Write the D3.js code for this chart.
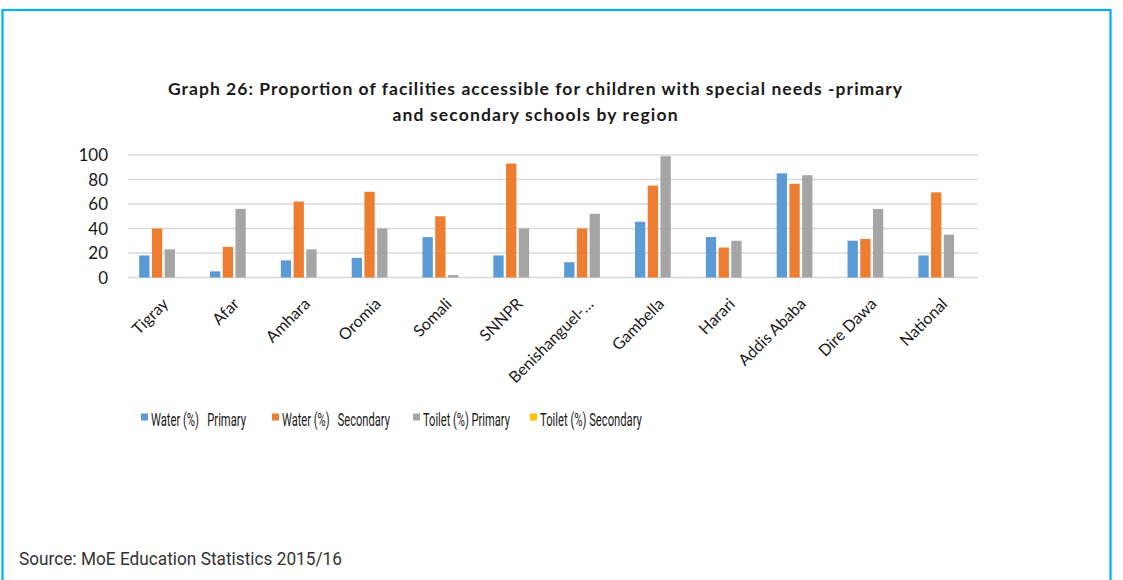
<!DOCTYPE html>
<html><head><meta charset="utf-8">
<script src="https://cdn.jsdelivr.net/npm/d3@7"></script>
<style>body{margin:0;background:#fff}svg{display:block}</style>
</head><body><svg id="c" width="1123" height="580"></svg>
<script>
const categories = ["Tigray","Afar","Amhara","Oromia","Somali","SNNPR","Benishanguel-…","Gambella","Harari","Addis Ababa","Dire Dawa","National"];
const seriesNames = ["Water (%)   Primary","Water (%)   Secondary","Toilet (%) Primary","Toilet (%) Secondary"];
const waterPrimary   = [18, 5, 14, 16, 33, 18, 12.5, 45.5, 33, 85, 30, 18];
const waterSecondary = [40, 25, 62, 70, 50, 93, 40, 75, 24.5, 76.5, 31.5, 69.5];
const toiletPrimary  = [23, 56, 23, 40, 2, 40, 52, 99, 30, 83.5, 56, 35];
const toiletSecondary= [0, 0, 0, 0, 0, 0, 0, 0, 0, 0, 0, 0];
const yTicks = [0, 20, 40, 60, 80, 100];
const colors = ["#5B9BD5","#ED7D31","#A5A5A5","#FFC000"];
const series = [waterPrimary, waterSecondary, toiletPrimary, toiletSecondary];

const svg = d3.select("#c");
svg.append("rect").attr("x",2.5).attr("y",10).attr("width",1108).attr("height",600)
  .attr("fill","none").attr("stroke","#00B0F0").attr("stroke-width",2.2);

const font = "Lato, 'Open Sans', sans-serif";
const title = svg.append("text").attr("text-anchor","middle").attr("font-family",font)
  .attr("font-weight","bold").attr("font-size",17.5).attr("fill","#1a1a1a");
title.append("tspan").attr("x",535).attr("y",95).attr("textLength",734).attr("lengthAdjust","spacing")
  .text("Graph 26: Proportion of facilities  accessible for children with special needs -primary");
title.append("tspan").attr("x",535).attr("y",121).attr("textLength",285).attr("lengthAdjust","spacing")
  .text("and secondary schools by region");

const x0 = d3.scaleBand().domain(categories).range([128, 978]);
const x1 = d3.scaleBand().domain(d3.range(4)).range([0, x0.bandwidth()]).paddingInner(0.19).paddingOuter(0.88);
const y = d3.scaleLinear().domain([0,100]).range([277.5, 155]);

svg.append("g").selectAll("line").data(yTicks).join("line")
  .attr("x1",128).attr("x2",978).attr("y1",d=>y(d)).attr("y2",d=>y(d))
  .attr("stroke","#D9D9D9").attr("stroke-width",1.6);

const yAxis = d3.axisLeft(y).tickValues(yTicks).tickSize(0).tickPadding(0);
const ga = svg.append("g").attr("transform","translate(108,0)").call(yAxis);
ga.select(".domain").remove();
ga.selectAll("text").attr("font-family",font).attr("font-size",17).attr("fill","#1a1a1a").attr("dy","0.35em");

categories.forEach((c,i)=>{
  series.forEach((s,j)=>{
    svg.append("rect").attr("x",x0(c)+x1(j)).attr("width",x1.bandwidth())
      .attr("y",y(s[i])).attr("height",y(0)-y(s[i])).attr("fill",colors[j]);
  });
});

const xAxis = d3.axisBottom(x0).tickSize(0).tickPadding(0);
const gx = svg.append("g").attr("transform","translate(0,301)").call(xAxis);
gx.select(".domain").remove();
gx.selectAll("text").attr("font-family",font).attr("font-size",16).attr("fill","#1a1a1a")
  .attr("text-anchor","end").attr("dy","0.35em").attr("transform","translate(2,0) rotate(-45)");

const legX = [141, 272, 413, 530];
const legW = [95, 108, 87, 102];
const lg = svg.append("g");
seriesNames.forEach((n,j)=>{
  lg.append("rect").attr("x",legX[j]).attr("y",413.5).attr("width",7).attr("height",7).attr("fill",colors[j]);
  const t = lg.append("text").attr("x",0).attr("y",0).attr("dy","0.35em")
    .attr("font-family","Roboto, sans-serif")
    .attr("font-size",17.5).attr("fill","#1a1a1a").style("white-space","pre").text(n);
  const w = t.node().getComputedTextLength();
  t.attr("transform",`translate(${legX[j]+10},420) scale(${legW[j]/w},1)`);
});

svg.append("text").attr("x",19).attr("y",565).attr("font-family","Roboto, sans-serif")
  .attr("textLength",323).attr("lengthAdjust","spacingAndGlyphs")
  .attr("font-size",18).attr("fill","#333").text("Source: MoE Education Statistics 2015/16");
</script></body></html>
